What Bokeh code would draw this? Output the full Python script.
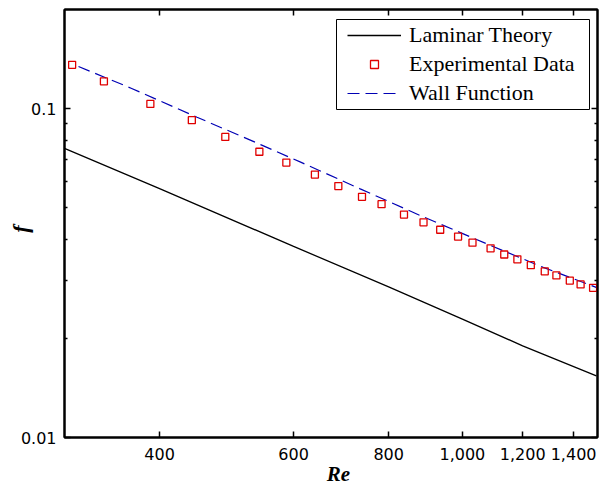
from bokeh.embed import file_html
from bokeh.models import (BoxAnnotation, CustomJSTickFormatter, FixedTicker,
                          Legend, LegendItem, LogAxis, NumeralTickFormatter,
                          Range1d)
from bokeh.plotting import figure
from bokeh.resources import INLINE

# Laminar theory friction factor
re_laminar = [300, 400, 600, 800, 1000, 1200, 1500]
f_laminar = [0.0757, 0.0571, 0.0381, 0.0287, 0.0229, 0.0190, 0.0154]

# Measured friction factor
re_exp = [307, 338, 389, 441, 488, 541, 587, 640, 687, 738, 783, 838, 889,
          935, 987, 1031, 1089, 1135, 1181, 1230, 1283, 1329, 1384, 1430, 1485]
f_exp = [0.1358, 0.1210, 0.1033, 0.0922, 0.0820, 0.0739, 0.0685, 0.0630,
         0.0581, 0.0539, 0.0512, 0.0476, 0.0451, 0.0428, 0.0408, 0.0391,
         0.0376, 0.0360, 0.0348, 0.0334, 0.0320, 0.0311, 0.0300, 0.0292,
         0.0285]

# Wall-function model prediction
re_wall = [313, 367, 448, 543, 613, 734, 880, 1076, 1277, 1505]
f_wall = [0.1342, 0.1153, 0.0941, 0.0777, 0.0687, 0.0570, 0.0473, 0.0388,
          0.0329, 0.0285]

x_ticks = [400, 600, 800, 1000, 1200, 1400]
y_ticks = [0.01, 0.1]
y_minor = [0.02, 0.03, 0.04, 0.05, 0.06, 0.07, 0.08, 0.09]

TICK_FONT = "DejaVu Sans"
SERIF = "Liberation Serif"

p = figure(width=604, height=488, x_axis_type="log", y_axis_type="log",
           x_range=Range1d(300, 1505), y_range=Range1d(0.01, 0.2),
           output_backend="svg", toolbar_location=None,
           min_border_left=64, min_border_right=7,
           min_border_top=9, min_border_bottom=51)
p.grid.visible = False
p.background_fill_color = "white"
p.border_fill_color = "white"
p.outline_line_color = "black"
p.outline_line_width = 2

lam = p.line(re_laminar, f_laminar, line_color="black", line_width=1.3)
wall = p.line(re_wall, f_wall, line_color="#0000b4", line_width=1.2,
              line_dash="12 6")
exp = p.scatter(re_exp, f_exp, marker="square", size=7, fill_color=None,
                line_color="#e00000", line_width=1.3)


def style_axis(ax, labels=True):
    ax.axis_line_color = "black"
    ax.axis_line_width = 2
    ax.major_tick_in = 6
    ax.major_tick_out = 0
    ax.minor_tick_in = 3
    ax.minor_tick_out = 0
    ax.major_tick_line_width = 1.5
    ax.minor_tick_line_width = 1.5
    if labels:
        ax.major_label_text_font = TICK_FONT
        ax.major_label_text_font_size = "16px"
        ax.major_label_text_color = "black"
        ax.axis_label_text_font = SERIF
        ax.axis_label_text_font_style = "bold italic"
        ax.axis_label_text_color = "black"
    else:
        ax.formatter = CustomJSTickFormatter(code="return ''")
        ax.major_label_text_font_size = "0px"
        ax.major_label_standoff = 0


p.xaxis.ticker = FixedTicker(ticks=x_ticks, minor_ticks=[])
p.xaxis.formatter = NumeralTickFormatter(format="0,0")
style_axis(p.xaxis[0])
p.xaxis.major_label_standoff = 10
p.xaxis.axis_label = "\u2002\u2009Re"
p.xaxis.axis_label_text_font_size = "21px"
p.xaxis.axis_label_standoff = -1

p.yaxis.ticker = FixedTicker(ticks=y_ticks, minor_ticks=y_minor)
p.yaxis.formatter = CustomJSTickFormatter(code="return tick.toString()")
style_axis(p.yaxis[0])
p.yaxis.major_label_standoff = 8
p.yaxis.axis_label = "f\u2002"
p.yaxis.axis_label_text_font_size = "22px"
p.yaxis.axis_label_standoff = -15

top = LogAxis(ticker=FixedTicker(ticks=x_ticks, minor_ticks=[]))
style_axis(top, labels=False)
p.add_layout(top, "above")

right = LogAxis(ticker=FixedTicker(ticks=y_ticks, minor_ticks=y_minor))
style_axis(right, labels=False)
p.add_layout(right, "right")

# Legend frame, drawn as its own box so the entries can sit tighter
p.add_layout(BoxAnnotation(left=272, right=525, top=418, bottom=328,
                           left_units="screen", right_units="screen",
                           top_units="screen", bottom_units="screen",
                           fill_color="white", fill_alpha=1,
                           line_color="black", line_width=1, line_alpha=1))

legend = Legend(items=[
    LegendItem(label="Laminar Theory", renderers=[lam]),
    LegendItem(label="Experimental Data", renderers=[exp]),
    LegendItem(label="Wall Function", renderers=[wall]),
], location=(283, 331))
legend.label_text_font = SERIF
legend.label_text_font_size = "22px"
legend.label_text_color = "black"
legend.border_line_color = None
legend.background_fill_alpha = 0
legend.padding = 5
legend.spacing = 3
legend.margin = 0
legend.glyph_width = 54
legend.label_standoff = 8
p.add_layout(legend)

open("out.html", "w").write(file_html(p, INLINE))
